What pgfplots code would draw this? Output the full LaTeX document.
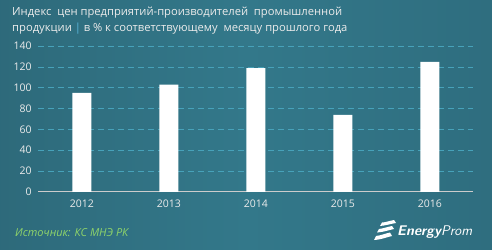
\documentclass[border=0pt]{standalone}
\usepackage{pgfplots}
\pgfplotsset{compat=1.18}
\usepackage{fontspec}
\setmainfont{Open Sans}
\definecolor{bgL}{HTML}{285C6B}
\definecolor{bgC}{HTML}{33788A}
\definecolor{bgR}{HTML}{2A6374}
\definecolor{gridc}{HTML}{47A2BA}
\definecolor{srcc}{HTML}{8FD46A}
\definecolor{barc}{HTML}{FFFFFF}
\definecolor{pipe}{HTML}{5BB8DE}
\begin{document}
\begin{tikzpicture}[x=1pt,y=1pt]
\pgfdeclarehorizontalshading{bgsh}{100bp}{color(0bp)=(bgL); color(50bp)=(bgC); color(100bp)=(bgR)}
\path[use as bounding box, shading=bgsh] (0,0) rectangle (492,249);
\node[anchor=west, text=white!92!black, font=\fontsize{11.2}{13}\selectfont, inner sep=0] at (12,236) {Индекс\ \ цен предприятий-производителей\ \ промышленной};
\node[anchor=west, text=white!92!black, font=\fontsize{11.2}{13}\selectfont, inner sep=0] at (12,220.5) {продукции \textcolor{pipe}{|} в \% к соответствующему\ \ месяцу прошлого года};
\begin{axis}[
  at={(44,55)}, anchor=south west,
  scale only axis, width=435, height=145.6,
  xmin=-0.5, xmax=4.5, ymin=0, ymax=140,
  ytick={0,20,...,140},
  xtick={0,1,2,3,4},
  xticklabels={2012,2013,2014,2015,2016},
  axis line style={draw=none},
  axis x line*=bottom,
  axis y line*=left,
  ymajorgrids,
  grid style={gridc, dash pattern=on 6pt off 4pt, line width=0.9pt},
  major tick length=0pt,
  tick label style={text=white!92!black, font=\fontsize{10.5}{12}\selectfont},
  /pgf/number format/assume math mode=true,
  yticklabel style={xshift=-3pt},
  xticklabel style={yshift=-5pt},
  ybar, bar width=19pt,
  clip=false,
]
\draw[white!80!black, line width=0.8pt] (axis cs:-0.5,0) -- (axis cs:4.5,0);
\addplot[fill=barc, draw=none] coordinates {(0,95) (1,103) (2,119) (3,74) (4,125)};
\end{axis}
\node[anchor=west, text=srcc, font=\fontsize{11}{12}\selectfont\itshape, inner sep=0] at (15,16) {Источник: КС МНЭ РК};
% logo
\begin{scope}[shift={(374,8)}, fill=white]
\fill (6,15) .. controls (12,15.5) and (16,17) .. (22,18) -- (20,21) .. controls (15,20) and (11,18.5) .. (8,18.5) -- cycle;
\fill (3,8.5) .. controls (10,9) and (15,11) .. (20,12) -- (18,15) .. controls (13,14) and (9,12.5) .. (5,12) -- cycle;
\fill (0,1) .. controls (8,1.5) and (13,4) .. (18,5) -- (16,8.5) .. controls (11,7.5) and (7,5.5) .. (2,5) -- cycle;
\end{scope}
\node[anchor=west, text=white, font=\fontsize{14}{15}\selectfont\sffamily\itshape, inner sep=0] at (397,17) {\textbf{Energy}Prom};
\end{tikzpicture}
\end{document}
